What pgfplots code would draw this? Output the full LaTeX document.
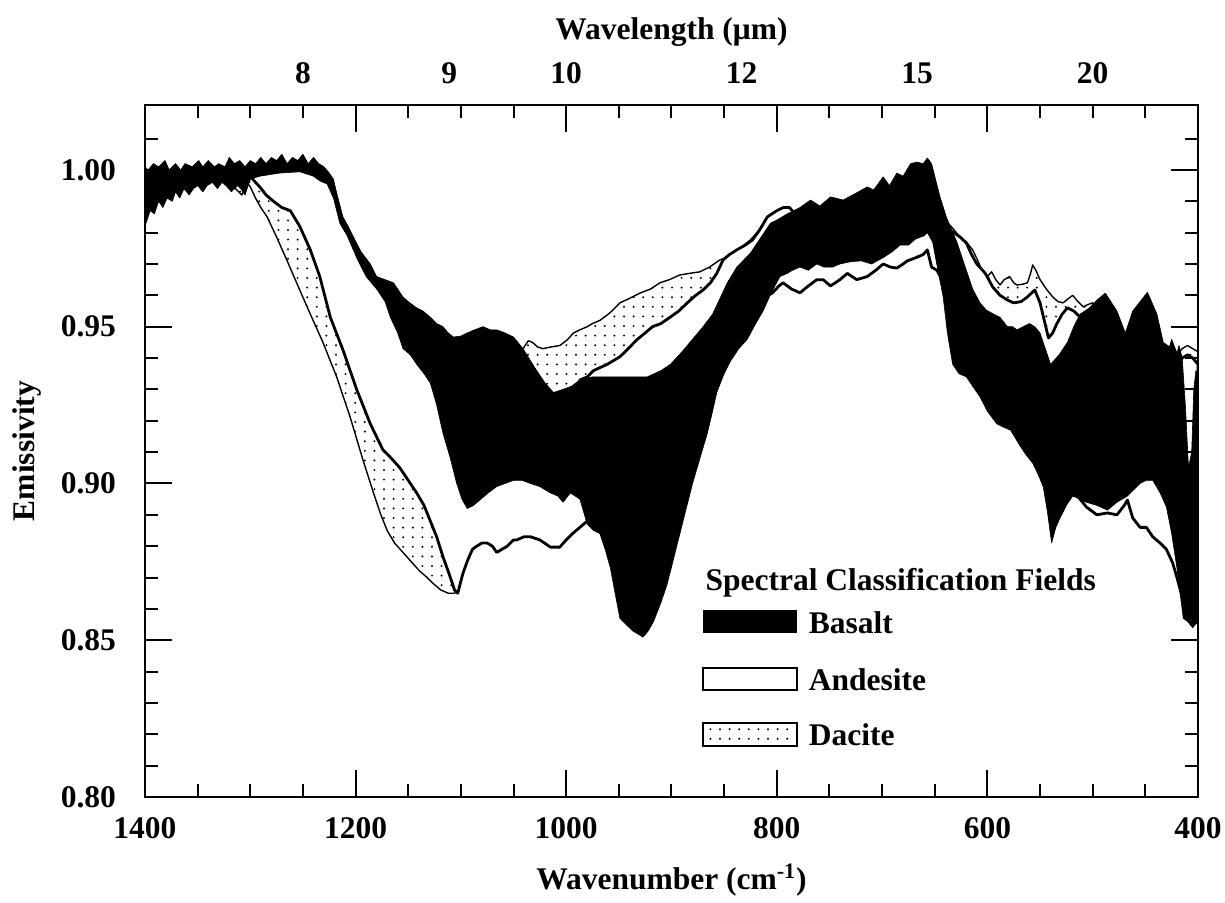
\documentclass[border=0pt]{standalone}
\usepackage{fontspec}
\setmainfont{Liberation Serif}
\usepackage{pgfplots}
\pgfplotsset{compat=1.18}
\usetikzlibrary{patterns.meta}
\newcommand{\ff}{\fontsize{15.75pt}{18pt}\selectfont\bfseries}
\begin{document}
\begin{tikzpicture}
\useasboundingbox (-72.5pt,-52.5pt) rectangle (540pt,398.5pt);
\begin{axis}[
  at={(0,0)}, anchor=south west,
  scale only axis, width=526.5pt, height=346pt,
  xmin=400, xmax=1400, x dir=reverse,
  ymin=0.80, ymax=1.0207,
  xtick={400,600,800,1000,1200,1400},
  xticklabels={400,600,800,1000,1200,1400},
  minor xtick={450,500,550,650,700,750,850,900,950,1050,1100,1150,1250,1300,1350},
  ytick={0.80,0.85,0.90,0.95,1.00},
  yticklabels={0.80,0.85,0.90,0.95,1.00},
  minor ytick={0.81,0.82,0.83,0.84,0.86,0.87,0.88,0.89,0.91,0.92,0.93,0.94,0.96,0.97,0.98,0.99,1.01},
  tick align=inside,
  major tick length=13.5pt, minor tick length=6.5pt,
  tick style={black, line width=1pt},
  axis line style={line width=1.2pt},
  axis on top,
  xticklabel style={font=\ff, anchor=center, yshift=-15.5pt},
  yticklabel style={font=\ff, anchor=east, xshift=-11pt},
  xlabel={Wavenumber (cm\textsuperscript{-1})},
  ylabel={Emissivity},
  xlabel style={font=\ff, at={(axis description cs:0.5,-0.12)}, anchor=center},
  ylabel style={font=\ff, at={(axis description cs:-0.112,0.5)}, anchor=center},
]
% Dacite field
\addplot[draw=black, line width=0.7pt, line join=round, pattern={Dots[distance=4.8pt,radius=0.55pt]}] coordinates {
(1320,0.998)(1300,0.999)(1290,0.9995)(1270,1.000)(1250,1.000)(1240,0.999)(1230,0.9975)(1221,0.993)(1212,0.982)(1202,0.975)(1195,0.9705)(1186,0.966)(1180,0.963)(1172,0.9605)(1164,0.956)(1155,0.950)(1142,0.946)(1129,0.9415)(1117,0.932)(1107,0.924)(1100,0.925)(1080,0.930)(1060,0.935)(1050,0.940)(1041,0.943)(1036,0.9455)(1032,0.945)(1027,0.9435)(1022,0.943)(1015,0.9435)(1006,0.944)(999,0.9458)(993,0.948)(987,0.949)(980,0.950)(975,0.951)(968,0.952)(960,0.954)(955,0.9555)(949,0.9576)(940,0.959)(930,0.9607)(920,0.962)(911,0.964)(902,0.965)(892,0.9665)(883,0.967)(873,0.9675)(864,0.969)(854,0.9713)(848,0.972)(842,0.9735)(835,0.975)(825,0.9777)(816,0.981)(804,0.985)(795,0.988)(788,0.987)(780,0.986)(760,0.984)(740,0.985)(720,0.987)(700,0.989)(680,0.990)(660,0.992)(652,0.990)(645,0.986)(640,0.984)(632,0.981)(626,0.9786)(620,0.977)(614,0.9745)(609,0.971)(604,0.967)(600,0.966)(596,0.9675)(592,0.965)(588,0.9633)(584,0.965)(579,0.966)(575,0.964)(572,0.9633)(567,0.9635)(562,0.964)(559,0.967)(557,0.9697)(554,0.968)(550,0.965)(544,0.962)(538,0.9595)(533,0.958)(528,0.9576)(523,0.959)(519,0.960)(514,0.958)(509,0.9563)(505,0.957)(500,0.9576)(495,0.950)(485,0.948)(470,0.944)(455,0.944)(440,0.943)(430,0.942)(420,0.941)(415,0.943)(410,0.944)(405,0.943)(400,0.942)
(400,0.925)(410,0.925)(420,0.928)(440,0.928)(460,0.928)(480,0.930)(495,0.935)(505,0.942)(515,0.947)(525,0.946)(535,0.942)(542,0.940)(550,0.945)(560,0.950)(570,0.950)(580,0.950)(590,0.952)(600,0.955)(610,0.962)(620,0.968)(626,0.972)(632,0.974)(640,0.975)(645,0.978)(652,0.982)(660,0.984)(680,0.983)(700,0.982)(720,0.980)(740,0.978)(760,0.977)(780,0.978)(800,0.978)(815,0.975)(830,0.970)(850,0.963)(870,0.955)(890,0.950)(910,0.945)(930,0.940)(950,0.935)(960,0.933)(970,0.931)(980,0.929)(990,0.927)(1000,0.925)(1012,0.924)(1025,0.920)(1040,0.915)(1055,0.910)(1070,0.905)(1085,0.900)(1095,0.885)(1103,0.866)(1106,0.865)(1112,0.865)(1119,0.866)(1126,0.868)(1132,0.870)(1139,0.872)(1147,0.875)(1155,0.878)(1163,0.881)(1170,0.885)(1176,0.890)(1183,0.897)(1193,0.9075)(1205,0.921)(1218,0.934)(1231,0.945)(1243,0.954)(1256,0.964)(1265,0.971)(1275,0.9786)(1284,0.985)(1290,0.988)(1295,0.991)(1300,0.9946)(1303,0.996)(1308,0.992)(1314,0.994)(1320,0.998)
};
% Andesite field
\addplot[draw=black, line width=1.4pt, line join=round, fill=white] coordinates {
(1305,0.999)(1300,1.000)(1290,1.0005)(1270,1.001)(1250,1.001)(1240,1.000)(1230,0.9985)(1221,0.994)(1212,0.983)(1202,0.976)(1195,0.9715)(1186,0.967)(1180,0.964)(1172,0.9615)(1164,0.957)(1155,0.951)(1142,0.947)(1129,0.9425)(1117,0.933)(1107,0.925)(1100,0.920)(1080,0.920)(1060,0.920)(1040,0.920)(1020,0.920)(1000,0.922)(990,0.928)(987,0.933)(980,0.934)(974,0.936)(961,0.938)(949,0.9404)(941,0.943)(933,0.9458)(925,0.948)(918,0.950)(910,0.951)(901,0.9531)(893,0.955)(885,0.9576)(877,0.960)(870,0.9617)(863,0.964)(857,0.967)(851,0.9713)(845,0.973)(838,0.9745)(830,0.976)(823,0.9777)(816,0.981)(809,0.985)(800,0.987)(794,0.988)(788,0.988)(780,0.985)(760,0.982)(740,0.983)(720,0.985)(700,0.987)(680,0.988)(660,0.990)(652,0.988)(645,0.984)(640,0.982)(632,0.980)(626,0.9786)(620,0.9767)(615,0.973)(610,0.970)(602,0.967)(595,0.9627)(588,0.960)(581,0.9585)(575,0.9576)(568,0.958)(562,0.9595)(555,0.9617)(550,0.9576)(546,0.952)(542,0.9464)(538,0.948)(534,0.951)(529,0.954)(524,0.956)(518,0.955)(512,0.9531)(506,0.948)(500,0.945)(490,0.942)(480,0.940)(470,0.937)(460,0.937)(450,0.937)(440,0.937)(430,0.937)(420,0.938)(415,0.940)(410,0.941)(405,0.940)(400,0.938)
(400,0.860)(410,0.862)(416,0.865)(420,0.870)(424,0.8746)(430,0.879)(436,0.881)(443,0.883)(449,0.886)(455,0.886)(462,0.889)(467,0.8947)(470,0.893)(477,0.890)(486,0.8906)(496,0.890)(506,0.8925)(512,0.895)(520,0.898)(530,0.905)(545,0.910)(560,0.918)(580,0.925)(600,0.935)(620,0.945)(640,0.962)(643,0.965)(648,0.968)(653,0.969)(657,0.9745)(661,0.973)(668,0.972)(676,0.971)(680,0.970)(686,0.9687)(692,0.969)(699,0.970)(706,0.968)(714,0.966)(724,0.965)(733,0.967)(740,0.965)(749,0.963)(756,0.965)(762,0.965)(770,0.963)(778,0.9608)(786,0.962)(794,0.964)(798,0.963)(804,0.9608)(808,0.960)(815,0.957)(830,0.950)(850,0.940)(870,0.915)(890,0.910)(910,0.905)(930,0.900)(950,0.895)(970,0.890)(980,0.888)(987,0.886)(994,0.884)(1000,0.882)(1006,0.8797)(1015,0.8797)(1025,0.882)(1034,0.883)(1040,0.883)(1047,0.882)(1050,0.882)(1056,0.880)(1061,0.879)(1066,0.878)(1070,0.880)(1075,0.881)(1080,0.881)(1085,0.880)(1089,0.879)(1093,0.876)(1098,0.8714)(1103,0.865)(1106,0.866)(1111,0.871)(1117,0.8766)(1123,0.883)(1129,0.888)(1135,0.893)(1142,0.897)(1150,0.901)(1158,0.905)(1166,0.908)(1174,0.9107)(1186,0.919)(1199,0.930)(1212,0.9426)(1224,0.953)(1234,0.966)(1243,0.9745)(1253,0.982)(1262,0.987)(1270,0.988)(1278,0.990)(1285,0.992)(1291,0.9946)(1295,0.996)(1300,0.998)(1305,0.999)
};
% Basalt field
\addplot[draw=black, line width=0.3pt, line join=round, fill=black] coordinates {
(1400,1.001)(1397,1.000)(1392,1.002)(1387,1.001)(1381,1.003)(1377,1.000)(1371,1.002)(1366,1.000)(1362,1.002)(1355,1.001)(1349,1.003)(1345,1.001)(1340,1.003)(1334,1.001)(1330,1.002)(1324,1.001)(1320,1.004)(1315,1.002)(1310,1.003)(1305,1.001)(1300,1.003)(1295,1.002)(1290,1.004)(1285,1.002)(1280,1.004)(1275,1.003)(1270,1.005)(1265,1.002)(1260,1.004)(1255,1.003)(1250,1.005)(1245,1.002)(1240,1.004)(1235,1.002)(1230,1.001)(1225,0.999)(1221,0.997)(1218,0.9927)(1212,0.985)(1207,0.982)(1202,0.9786)(1195,0.974)(1186,0.970)(1180,0.966)(1172,0.965)(1164,0.964)(1160,0.962)(1155,0.9595)(1150,0.958)(1142,0.956)(1136,0.955)(1129,0.953)(1123,0.951)(1117,0.950)(1112,0.948)(1107,0.9467)(1100,0.947)(1094,0.948)(1087,0.949)(1079,0.950)(1072,0.949)(1066,0.949)(1058,0.948)(1050,0.9467)(1041,0.943)(1030,0.937)(1020,0.932)(1012,0.929)(1003,0.930)(995,0.931)(987,0.933)(975,0.934)(961,0.934)(945,0.934)(923,0.934)(910,0.936)(901,0.938)(890,0.942)(880,0.946)(870,0.950)(861,0.954)(854,0.959)(847,0.964)(838,0.969)(825,0.9735)(816,0.978)(806,0.983)(800,0.984)(790,0.986)(778,0.988)(768,0.9904)(759,0.9885)(749,0.9914)(737,0.9904)(728,0.992)(714,0.9946)(708,0.9936)(699,0.9978)(693,0.995)(686,0.999)(680,0.998)(673,1.002)(667,1.0025)(661,1.002)(657,1.0038)(653,1.002)(645,0.9914)(639,0.985)(634,0.981)(629,0.977)(624,0.972)(620,0.968)(614,0.962)(607,0.9576)(601,0.9553)(594,0.954)(588,0.953)(581,0.950)(576,0.950)(572,0.949)(566,0.950)(560,0.951)(555,0.950)(550,0.948)(545,0.943)(540,0.938)(532,0.941)(524,0.945)(518,0.950)(512,0.954)(503,0.956)(496,0.9585)(488,0.9607)(477,0.955)(469,0.948)(462,0.955)(455,0.958)(448,0.961)(439,0.954)(433,0.945)(427,0.9436)(425,0.946)(420,0.9416)(418,0.944)(415,0.940)(412,0.925)(409,0.905)(406,0.910)(404,0.930)(402,0.936)(400,0.935)
(400,0.856)(405,0.854)(410,0.856)(414,0.857)(417,0.865)(420,0.873)(425,0.884)(430,0.8925)(436,0.897)(443,0.901)(449,0.901)(455,0.900)(461,0.898)(467,0.896)(477,0.894)(486,0.8915)(496,0.893)(506,0.894)(512,0.895)(519,0.896)(525,0.893)(531,0.889)(535,0.886)(539,0.881)(543,0.891)(547,0.899)(552,0.903)(557,0.9065)(563,0.909)(569,0.912)(578,0.917)(585,0.918)(591,0.919)(600,0.923)(607,0.9276)(614,0.931)(620,0.934)(627,0.935)(633,0.938)(638,0.948)(642,0.9595)(647,0.968)(652,0.977)(657,0.980)(660,0.979)(668,0.978)(675,0.976)(683,0.976)(690,0.974)(699,0.972)(710,0.970)(720,0.971)(730,0.9707)(740,0.970)(747,0.969)(755,0.969)(762,0.970)(770,0.968)(778,0.969)(785,0.968)(790,0.967)(797,0.966)(805,0.961)(813,0.955)(820,0.951)(828,0.946)(836,0.943)(844,0.939)(850,0.935)(857,0.929)(861,0.923)(866,0.916)(873,0.908)(880,0.900)(886,0.892)(892,0.884)(898,0.876)(904,0.868)(910,0.862)(917,0.856)(922,0.853)(927,0.851)(932,0.852)(937,0.853)(943,0.855)(949,0.857)(953,0.864)(958,0.873)(963,0.879)(968,0.884)(974,0.885)(980,0.887)(987,0.895)(996,0.897)(1003,0.894)(1008,0.896)(1015,0.897)(1025,0.899)(1034,0.900)(1042,0.901)(1050,0.901)(1058,0.900)(1066,0.899)(1074,0.897)(1082,0.8947)(1088,0.893)(1094,0.892)(1099,0.895)(1104,0.900)(1110,0.908)(1117,0.916)(1123,0.925)(1129,0.932)(1135,0.935)(1142,0.938)(1148,0.941)(1155,0.943)(1160,0.948)(1167,0.953)(1172,0.958)(1180,0.962)(1190,0.966)(1199,0.972)(1208,0.979)(1215,0.983)(1221,0.991)(1227,0.9955)(1234,0.9965)(1240,0.998)(1253,0.9994)(1272,0.999)(1291,0.998)(1300,0.997)(1305,0.992)(1309,0.994)(1312,0.995)(1318,0.993)(1323,0.995)(1327,0.996)(1331,0.994)(1336,0.996)(1341,0.995)(1345,0.993)(1350,0.995)(1354,0.994)(1358,0.992)(1363,0.994)(1367,0.991)(1371,0.993)(1374,0.990)(1379,0.991)(1383,0.988)(1387,0.990)(1391,0.986)(1395,0.987)(1398,0.984)(1400,0.982)(1400,1.001)
};
% Legend
\fill[black] (axis cs:870,0.8523) rectangle (axis cs:781,0.8597);
\draw[line width=1pt, fill=white] (axis cs:870,0.8341) rectangle (axis cs:781,0.8411);
\draw[line width=0.8pt, pattern={Dots[distance=4.8pt,radius=0.55pt]}] (axis cs:870,0.8163) rectangle (axis cs:781,0.8236);
\node[font=\ff, anchor=base west, inner sep=0pt] at (axis cs:868,0.866) {Spectral Classification Fields};
\node[font=\ff, anchor=base west, inner sep=0pt] at (axis cs:770,0.8523) {Basalt};
\node[font=\ff, anchor=base west, inner sep=0pt] at (axis cs:770,0.8341) {Andesite};
\node[font=\ff, anchor=base west, inner sep=0pt] at (axis cs:770,0.8163) {Dacite};
\end{axis}
\begin{axis}[
  at={(0,0)}, anchor=south west,
  scale only axis, width=526.5pt, height=346pt,
  xmin=400, xmax=1400, x dir=reverse, ymin=0, ymax=1,
  axis x line*=top, axis y line=none,
  axis line style={draw=none},
  xtick={1250,1111.11,1000,833.33,666.67,500},
  xticklabels={8,9,10,12,15,20},
  major tick length=0pt, tick style={draw=none},
  xticklabel style={font=\ff, anchor=center, yshift=16pt},
  xlabel={Wavelength (μm)},
  xlabel style={font=\ff, at={(axis description cs:0.5,1.105)}, anchor=center},
]
\addplot[draw=none, forget plot] coordinates {(400,0) (1400,1)};
\end{axis}
\end{tikzpicture}
\end{document}
